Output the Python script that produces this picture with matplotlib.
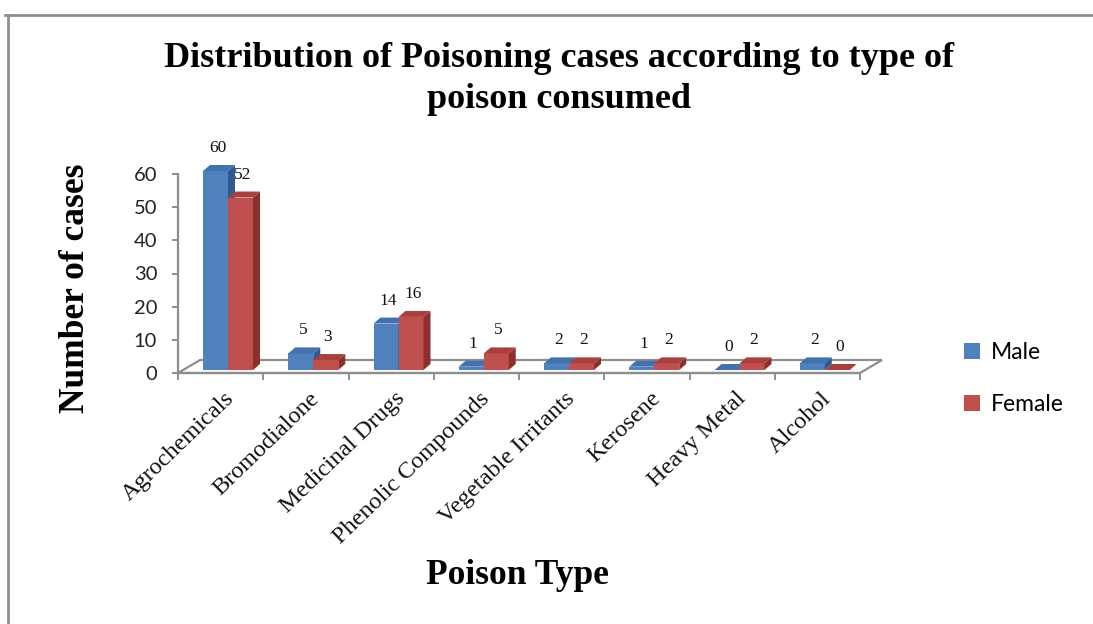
import matplotlib
matplotlib.use("Agg")
import matplotlib.pyplot as plt
from matplotlib.patches import Polygon, Patch
from matplotlib.lines import Line2D
from matplotlib.transforms import ScaledTranslation

categories = ["Agrochemicals", "Bromodialone", "Medicinal Drugs", "Phenolic Compounds",
              "Vegetable Irritants", "Kerosene", "Heavy Metal", "Alcohol"]
male = [60, 5, 14, 1, 2, 1, 0, 2]
female = [52, 3, 16, 5, 2, 2, 2, 0]
series_names = ["Male", "Female"]
yticks = [0, 10, 20, 30, 40, 50, 60]

title = "Distribution of Poisoning cases according to type of\npoison consumed"
xlabel = "Poison Type"
ylabel = "Number of cases"

W, H, DPI = 1093, 624, 100
fig = plt.figure(figsize=(W / DPI, H / DPI), dpi=DPI)

serif = "Liberation Serif"
sans = "Lato"

# axes geometry (pixels)
x0_px, x1_px = 178, 860
y0_px = 373            # value 0 (from top)
ppu = 199 / 60.0       # pixels per unit
ylo, yhi = -6, 75
bottom_px = (H - y0_px) - (-ylo) * ppu
ax = fig.add_axes([x0_px / W, bottom_px / H, (x1_px - x0_px) / W, (yhi - ylo) * ppu / H])
ax.set_xlim(0, len(categories))
ax.set_ylim(ylo, yhi)
ax.patch.set_alpha(0)

xpu = (x1_px - x0_px) / len(categories)
gray = "#8e8e8e"

# floor outline
fdx, fdy = 22 / xpu, 13 / ppu
n = len(categories)
floor = Polygon([[0, 0], [n, 0], [n + fdx, fdy], [fdx, fdy]], closed=True,
                facecolor="white", edgecolor=gray, lw=1.6, zorder=1, clip_on=False)
ax.add_patch(floor)

# spines / ticks
for s in ["top", "right"]:
    ax.spines[s].set_visible(False)
ax.spines["left"].set_bounds(0, 60)
ax.spines["left"].set_color(gray)
ax.spines["left"].set_linewidth(1.6)
ax.spines["bottom"].set_position(("data", 0))
ax.spines["bottom"].set_bounds(0, n)
ax.spines["bottom"].set_color(gray)
ax.spines["bottom"].set_linewidth(1.6)
ax.set_yticks(yticks)
ax.set_yticklabels([str(v) for v in yticks], fontsize=14.5, family=sans, color="#222222")
ax.tick_params(axis="y", length=4, width=1.4, color=gray, pad=11)
ax.set_xticks(range(n + 1))
ax.set_xticklabels([])
ax.tick_params(axis="x", length=5, width=1.4, color=gray, direction="out")

# bars with pseudo 3D depth
off = ScaledTranslation(0, 3 / DPI, fig.dpi_scale_trans)
tr = ax.transData + off
bw = 25 / xpu
bdx, bdy = 7 / xpu, 6 / ppu
styles = [
    dict(front="#4f81bd", side="#30598f", top="#4271ad"),
    dict(front="#c0504d", side="#8a302e", top="#a9403d"),
]
starts = [25 / xpu, 25 / xpu + bw]
for i in range(n):
    for k, vals in enumerate([male, female]):
        v = vals[i]
        st = styles[k]
        left = i + starts[k]
        bars = ax.bar(left, v, width=bw, align="edge", color=st["front"], edgecolor="none",
                      zorder=3, clip_on=False)
        for b in bars:
            b.set_transform(tr)
        side = Polygon([[left + bw, 0], [left + bw + bdx, bdy], [left + bw + bdx, v + bdy], [left + bw, v]],
                       closed=True, facecolor=st["side"], edgecolor="none", zorder=3,
                       transform=tr, clip_on=False)
        top = Polygon([[left, v], [left + bw, v], [left + bw + bdx, v + bdy], [left + bdx, v + bdy]],
                      closed=True, facecolor=st["top"], edgecolor="none", zorder=3,
                      transform=tr, clip_on=False)
        ax.add_patch(side)
        ax.add_patch(top)
        ax.annotate(str(v), xy=(left + bw / 2, v), xycoords=tr, xytext=(2, 23),
                    textcoords="offset pixels", ha="center", va="center",
                    fontsize=12.5, family=serif, color="#111111", zorder=5)

# category labels
for i, c in enumerate(categories):
    ax.annotate(c, xy=(i + 0.5, 0), xycoords="data", xytext=(3, -15), textcoords="offset pixels",
                rotation=44, rotation_mode="anchor", ha="right", va="top",
                fontsize=17.5, family=serif, color="#111111")

# titles
fig.text(559 / W, 1 - 79 / H, title, ha="center", va="center", fontsize=26,
         fontweight="bold", family=serif, linespacing=1.32)
fig.text(517 / W, 1 - 575 / H, xlabel, ha="center", va="center", fontsize=25.5,
         fontweight="bold", family=serif)
fig.text(76 / W, 1 - 288 / H, ylabel, ha="center", va="center", fontsize=25.5,
         fontweight="bold", family=serif, rotation=90)

# legend
handles = [Patch(facecolor=styles[0]["front"]), Patch(facecolor=styles[1]["front"])]
fig.legend(handles, series_names, loc="upper left", bbox_to_anchor=(955 / W, 1 - 333 / H),
           frameon=False, prop={"family": sans, "size": 16.5}, handlelength=0.7,
           handleheight=0.7, handletextpad=0.45, labelspacing=1.35, borderaxespad=0)

# outer frame
fig.add_artist(Line2D([5 / W, 1], [1 - 15 / H, 1 - 15 / H], transform=fig.transFigure,
                      color=gray, lw=2))
fig.add_artist(Line2D([8 / W, 8 / W], [0, 1 - 15 / H], transform=fig.transFigure,
                      color=gray, lw=2))

fig.savefig("out.png", dpi=DPI)
